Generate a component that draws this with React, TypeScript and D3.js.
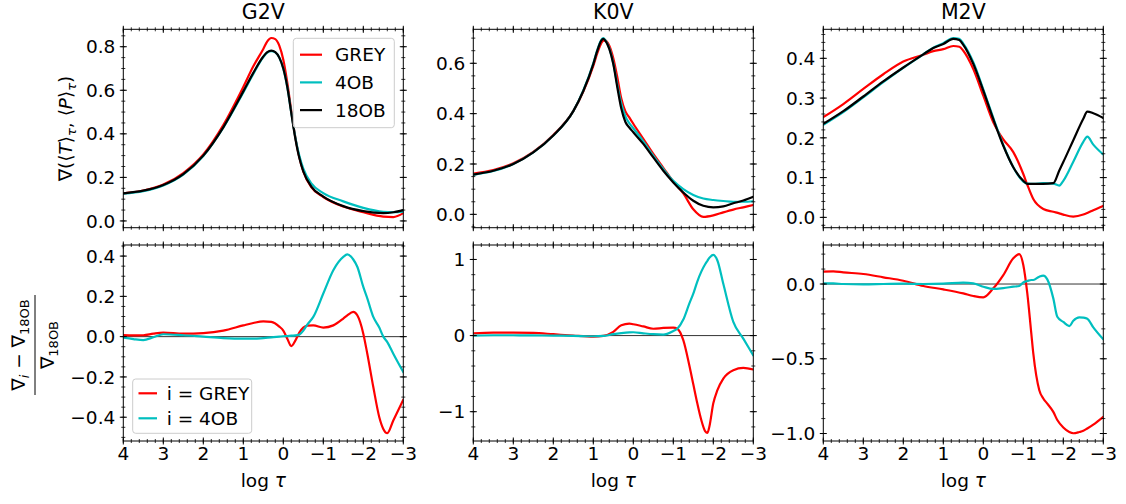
import React from 'react';
import * as d3 from 'd3';

// ---------- categories / ticks ----------
const starTypes = ['G2V', 'K0V', 'M2V'];
const xMajorTicks = [4, 3, 2, 1, 0, -1, -2, -3];
const topLegendLabels = ['GREY', '4OB', '18OB'];
const bottomLegendLabels = ['i = GREY', 'i = 4OB'];

// ---------- G2V gradient ----------
const tauG2VTop = [4, 3.5, 3, 2.5, 2, 1.5, 1, 0.75, 0.5, 0.4, 0.3, 0.2, 0.1, 0, -0.1, -0.2, -0.3, -0.4, -0.5, -0.7, -1, -1.5, -2, -2.5, -2.75, -3];
const g2vTopGrey = [0.127, 0.14, 0.167, 0.22, 0.305, 0.44, 0.615, 0.71, 0.79, 0.825, 0.84, 0.835, 0.805, 0.74, 0.635, 0.505, 0.385, 0.292, 0.228, 0.155, 0.11, 0.066, 0.04, 0.02, 0.018, 0.036];
const g2vTop4OB = [0.125, 0.137, 0.163, 0.213, 0.298, 0.428, 0.59, 0.675, 0.752, 0.773, 0.78, 0.774, 0.75, 0.7, 0.615, 0.497, 0.385, 0.3, 0.24, 0.172, 0.128, 0.09, 0.06, 0.042, 0.04, 0.043];
const g2vTop18OB = [0.127, 0.139, 0.165, 0.215, 0.3, 0.43, 0.595, 0.68, 0.755, 0.775, 0.782, 0.775, 0.75, 0.7, 0.615, 0.495, 0.38, 0.29, 0.228, 0.158, 0.112, 0.068, 0.045, 0.036, 0.04, 0.05];

// ---------- K0V gradient ----------
const tauK0VTop = [4, 3.5, 3, 2.5, 2, 1.5, 1.25, 1, 0.9, 0.8, 0.75, 0.7, 0.6, 0.5, 0.4, 0.3, 0.2, 0.1, 0, -0.25, -0.5, -0.75, -1, -1.25, -1.5, -1.75, -2, -2.25, -2.5, -2.75, -3];
const k0vTopGrey = [0.162, 0.176, 0.203, 0.248, 0.315, 0.41, 0.488, 0.59, 0.64, 0.68, 0.69, 0.69, 0.67, 0.62, 0.545, 0.46, 0.41, 0.385, 0.36, 0.3, 0.24, 0.185, 0.13, 0.083, 0.02, -0.01, -0.004, 0.008, 0.019, 0.028, 0.037];
const k0vTop4OB = [0.157, 0.172, 0.2, 0.246, 0.313, 0.41, 0.492, 0.6, 0.653, 0.693, 0.7, 0.692, 0.66, 0.6, 0.515, 0.44, 0.39, 0.362, 0.342, 0.29, 0.233, 0.18, 0.133, 0.1, 0.077, 0.063, 0.057, 0.053, 0.05, 0.05, 0.052];
const k0vTop18OB = [0.158, 0.173, 0.2, 0.246, 0.313, 0.41, 0.49, 0.597, 0.65, 0.69, 0.697, 0.69, 0.657, 0.597, 0.505, 0.42, 0.368, 0.345, 0.326, 0.28, 0.226, 0.173, 0.127, 0.087, 0.054, 0.034, 0.028, 0.032, 0.044, 0.055, 0.07];

// ---------- M2V gradient ----------
const tauM2VTop = [4, 3.5, 3, 2.5, 2, 1.5, 1.25, 1, 0.75, 0.6, 0.5, 0.25, 0, -0.25, -0.5, -0.75, -1, -1.1, -1.25, -1.5, -1.75, -1.9, -2, -2.25, -2.5, -2.6, -2.75, -3];
const m2vTopGrey = [0.252, 0.285, 0.323, 0.36, 0.392, 0.409, 0.418, 0.423, 0.431, 0.429, 0.419, 0.373, 0.306, 0.239, 0.196, 0.164, 0.109, 0.082, 0.046, 0.021, 0.014, 0.01, 0.007, 0.002, 0.007, 0.011, 0.018, 0.029];
const m2vTop4OB = [0.233, 0.265, 0.302, 0.34, 0.376, 0.41, 0.427, 0.438, 0.451, 0.449, 0.437, 0.39, 0.322, 0.25, 0.182, 0.126, 0.09, 0.085, 0.084, 0.086, 0.085, 0.08, 0.092, 0.14, 0.19, 0.203, 0.183, 0.158];
const m2vTop18OB = [0.235, 0.267, 0.304, 0.342, 0.377, 0.41, 0.426, 0.436, 0.449, 0.446, 0.434, 0.386, 0.319, 0.247, 0.18, 0.126, 0.092, 0.084, 0.084, 0.084, 0.086, 0.118, 0.139, 0.194, 0.248, 0.266, 0.262, 0.25];

// ---------- G2V relative difference ----------
const tauG2VBot = [4, 3.75, 3.5, 3.25, 3, 2.5, 2, 1.5, 1, 0.75, 0.5, 0.3, 0.1, 0, -0.1, -0.2, -0.3, -0.4, -0.5, -0.6, -0.75, -1, -1.25, -1.5, -1.6, -1.75, -1.85, -2, -2.1, -2.25, -2.4, -2.5, -2.6, -2.75, -3];
const g2vBotGrey = [0.008, 0.006, 0.007, 0.015, 0.02, 0.015, 0.018, 0.03, 0.056, 0.068, 0.076, 0.073, 0.05, 0.03, -0.01, -0.047, -0.02, 0.02, 0.045, 0.055, 0.056, 0.045, 0.056, 0.09, 0.106, 0.123, 0.106, 0.015, -0.085, -0.25, -0.4, -0.458, -0.479, -0.416, -0.313];
const g2vBot4OB = [-0.005, -0.012, -0.017, -0.003, 0.012, 0.007, 0, -0.007, -0.01, -0.01, -0.007, -0.004, 0, 0.002, 0.003, 0.005, 0.006, 0.01, 0.03, 0.06, 0.098, 0.214, 0.33, 0.396, 0.408, 0.383, 0.347, 0.247, 0.19, 0.098, 0.045, 0, -0.027, -0.085, -0.176];

// ---------- K0V relative difference ----------
const tauK0VBot = [4, 3.5, 3, 2.5, 2, 1.5, 1, 0.75, 0.5, 0.3, 0.1, 0, -0.25, -0.5, -0.75, -1, -1.1, -1.25, -1.4, -1.5, -1.6, -1.7, -1.8, -1.85, -1.9, -2, -2.1, -2.25, -2.5, -2.75, -3];
const k0vBotGrey = [0.03, 0.04, 0.04, 0.035, 0.018, 0, -0.013, -0.004, 0.048, 0.136, 0.158, 0.149, 0.12, 0.09, 0.1, 0.105, 0.09, -0.06, -0.39, -0.64, -0.89, -1.11, -1.26, -1.28, -1.2, -0.89, -0.72, -0.565, -0.455, -0.425, -0.446];
const k0vBot4OB = [0, 0.004, 0.004, 0.002, 0, -0.004, -0.009, -0.005, 0.018, 0.032, 0.042, 0.044, 0.03, 0.018, 0.013, 0.06, 0.09, 0.21, 0.42, 0.55, 0.71, 0.84, 0.94, 0.98, 1.02, 1.06, 0.99, 0.68, 0.18, -0.04, -0.26];

// ---------- M2V relative difference ----------
const tauM2VBot = [4, 3.75, 3.5, 3, 2.5, 2, 1.5, 1, 0.5, 0.25, 0, -0.25, -0.5, -0.75, -0.9, -1, -1.1, -1.2, -1.25, -1.4, -1.5, -1.6, -1.75, -1.85, -2, -2.15, -2.25, -2.4, -2.5, -2.6, -2.75, -3];
const m2vBotGrey = [0.083, 0.085, 0.078, 0.067, 0.045, 0.022, -0.013, -0.036, -0.063, -0.08, -0.089, -0.029, 0.06, 0.172, 0.2, 0.127, -0.063, -0.33, -0.464, -0.71, -0.766, -0.8, -0.855, -0.91, -0.96, -0.99, -0.998, -0.99, -0.982, -0.966, -0.94, -0.888];
const m2vBot4OB = [0.004, 0.004, 0, -0.002, 0, 0.002, 0, 0.002, 0.009, 0.004, -0.018, -0.033, -0.027, -0.018, -0.013, 0.011, 0.02, 0.027, 0.027, 0.049, 0.056, 0.031, -0.096, -0.219, -0.254, -0.281, -0.246, -0.223, -0.225, -0.232, -0.29, -0.37];

// ---------- colours ----------
const RED = '#ff0000';
const CYAN = '#00bfbf';
const BLACK = '#000000';
const FONT = '"DejaVu Sans", sans-serif';
const FS = 18.5;

const COL_LEFT = [123.3, 473.3, 823.3];
const PW = 280;
const TOP_ROW = [29.3, 227.7];
const BOT_ROW = [245, 441];

type Series = { color: string; tau: number[]; values: number[] };

function minorRange(lo: number, hi: number, step: number) {
  const a = Math.ceil(lo / step - 1e-9);
  const b = Math.floor(hi / step + 1e-9);
  return d3.range(a, b + 1).map((i) => i * step);
}

function Panel(props: {
  left: number; row: number[]; yDomain: [number, number]; yTicks: number[]; yMinor: number;
  yFmt: (v: number) => string; series: Series[]; title?: string; xLabels?: boolean; zero?: boolean; id: string;
}) {
  const { left, row, yDomain, yTicks, yMinor, yFmt, series, title, xLabels, zero, id } = props;
  const x = d3.scaleLinear().domain([4, -3]).range([left, left + PW]);
  const y = d3.scaleLinear().domain(yDomain).range([row[1], row[0]]);
  const line = d3.line<[number, number]>().x((d) => x(d[0])).y((d) => y(d[1])).curve(d3.curveMonotoneX);
  const xMinor = d3.range(0, 36).map((i) => -3 + i * 0.2);
  const yMin = minorRange(yDomain[0], yDomain[1], yMinor);
  const x0 = left, x1 = left + PW, y0 = row[0], y1 = row[1];
  const M = 3.5, m = 2;
  return (
    <g>
      <defs>
        <clipPath id={id}><rect x={x0} y={y0} width={PW} height={y1 - y0} /></clipPath>
      </defs>
      {zero && <line x1={x0} x2={x1} y1={y(0)} y2={y(0)} stroke="#000" strokeWidth={0.8} />}
      <g clipPath={`url(#${id})`}>
        {series.map((s, i) => (
          <path key={i} d={line(s.tau.map((t, j) => [t, s.values[j]] as [number, number])) || ''}
            fill="none" stroke={s.color} strokeWidth={2.2} strokeLinejoin="round" strokeLinecap="round" />
        ))}
      </g>
      <rect x={x0} y={y0} width={PW} height={y1 - y0} fill="none" stroke="#000" strokeWidth={1} />
      {xMinor.map((t, i) => (
        <g key={'xm' + i}>
          <line x1={x(t)} x2={x(t)} y1={y1 - m} y2={y1 + m} stroke="#000" strokeWidth={0.8} />
          <line x1={x(t)} x2={x(t)} y1={y0 - m} y2={y0 + m} stroke="#000" strokeWidth={0.8} />
        </g>
      ))}
      {xMajorTicks.map((t, i) => (
        <g key={'xM' + i}>
          <line x1={x(t)} x2={x(t)} y1={y1 - M} y2={y1 + M} stroke="#000" strokeWidth={1} />
          <line x1={x(t)} x2={x(t)} y1={y0 - M} y2={y0 + M} stroke="#000" strokeWidth={1} />
          {xLabels && (
            <text x={x(t)} y={460} textAnchor="middle" fontSize={FS} fontFamily={FONT}>
              {d3.format('d')(t)}
            </text>
          )}
        </g>
      ))}
      {yMin.map((t, i) => (
        <g key={'ym' + i}>
          <line x1={x0 - m} x2={x0 + m} y1={y(t)} y2={y(t)} stroke="#000" strokeWidth={0.8} />
          <line x1={x1 - m} x2={x1 + m} y1={y(t)} y2={y(t)} stroke="#000" strokeWidth={0.8} />
        </g>
      ))}
      {yTicks.map((t, i) => (
        <g key={'yM' + i}>
          <line x1={x0 - M} x2={x0 + M} y1={y(t)} y2={y(t)} stroke="#000" strokeWidth={1} />
          <line x1={x1 - M} x2={x1 + M} y1={y(t)} y2={y(t)} stroke="#000" strokeWidth={1} />
          <text x={x0 - 8} y={y(t)} dy="0.36em" textAnchor="end" fontSize={FS} fontFamily={FONT}>{yFmt(t)}</text>
        </g>
      ))}
      {title && (
        <text x={(x0 + x1) / 2} y={19} textAnchor="middle" fontSize={20.5} fontFamily={FONT}>{title}</text>
      )}
      {xLabels && (
        <text x={(x0 + x1) / 2} y={487} textAnchor="middle" fontSize={FS} fontFamily={FONT}>
          log <tspan fontStyle="italic">τ</tspan>
        </text>
      )}
    </g>
  );
}

const f1 = d3.format('.1f');
const fd = d3.format('d');

export default function App() {
  const colors = [RED, CYAN, BLACK];
  return (
    <svg width={1126} height={504} style={{ position: 'absolute', left: 0, top: 0, background: '#fff' }}
      fontFamily={FONT}>
      <rect width={1126} height={504} fill="#fff" />
      <Panel id="c0" left={COL_LEFT[0]} row={TOP_ROW} yDomain={[-0.031, 0.88]} yTicks={[0, 0.2, 0.4, 0.6, 0.8]} yMinor={0.05}
        yFmt={f1} title={starTypes[0]}
        series={[{ color: RED, tau: tauG2VTop, values: g2vTopGrey }, { color: CYAN, tau: tauG2VTop, values: g2vTop4OB }, { color: BLACK, tau: tauG2VTop, values: g2vTop18OB }]} />
      <Panel id="c1" left={COL_LEFT[1]} row={TOP_ROW} yDomain={[-0.053, 0.735]} yTicks={[0, 0.2, 0.4, 0.6]} yMinor={0.05}
        yFmt={f1} title={starTypes[1]}
        series={[{ color: RED, tau: tauK0VTop, values: k0vTopGrey }, { color: CYAN, tau: tauK0VTop, values: k0vTop4OB }, { color: BLACK, tau: tauK0VTop, values: k0vTop18OB }]} />
      <Panel id="c2" left={COL_LEFT[2]} row={TOP_ROW} yDomain={[-0.026, 0.473]} yTicks={[0, 0.1, 0.2, 0.3, 0.4]} yMinor={0.02}
        yFmt={f1} title={starTypes[2]}
        series={[{ color: RED, tau: tauM2VTop, values: m2vTopGrey }, { color: CYAN, tau: tauM2VTop, values: m2vTop4OB }, { color: BLACK, tau: tauM2VTop, values: m2vTop18OB }]} />
      <Panel id="c3" left={COL_LEFT[0]} row={BOT_ROW} yDomain={[-0.518, 0.455]} yTicks={[-0.4, -0.2, 0, 0.2, 0.4]} yMinor={0.05}
        yFmt={f1} xLabels zero
        series={[{ color: RED, tau: tauG2VBot, values: g2vBotGrey }, { color: CYAN, tau: tauG2VBot, values: g2vBot4OB }]} />
      <Panel id="c4" left={COL_LEFT[1]} row={BOT_ROW} yDomain={[-1.385, 1.19]} yTicks={[-1, 0, 1]} yMinor={0.2}
        yFmt={fd} xLabels zero
        series={[{ color: RED, tau: tauK0VBot, values: k0vBotGrey }, { color: CYAN, tau: tauK0VBot, values: k0vBot4OB }]} />
      <Panel id="c5" left={COL_LEFT[2]} row={BOT_ROW} yDomain={[-1.05, 0.261]} yTicks={[-1, -0.5, 0]} yMinor={0.1}
        yFmt={f1} xLabels zero
        series={[{ color: RED, tau: tauM2VBot, values: m2vBotGrey }, { color: CYAN, tau: tauM2VBot, values: m2vBot4OB }]} />

      <g>
        <rect x={293.3} y={38.3} width={101} height={89.4} rx={3} fill="#fff" fillOpacity={0.8} stroke="#cccccc" strokeWidth={1} />
        {topLegendLabels.map((lab, i) => {
          const yy = 54.7 + i * 27.7;
          return (
            <g key={lab}>
              <line x1={300} x2={322} y1={yy} y2={yy} stroke={colors[i]} strokeWidth={2.2} />
              <text x={335} y={yy} dy="0.36em" fontSize={FS} fontFamily={FONT}>{lab}</text>
            </g>
          );
        })}
      </g>
      <g>
        <rect x={132.7} y={379} width={119} height={54.3} rx={3} fill="#fff" fillOpacity={0.8} stroke="#cccccc" strokeWidth={1} />
        {bottomLegendLabels.map((lab, i) => {
          const yy = 393.3 + i * 25;
          return (
            <g key={lab}>
              <line x1={138.5} x2={157} y1={yy} y2={yy} stroke={colors[i]} strokeWidth={2.2} />
              <text x={166.7} y={yy} dy="0.36em" fontSize={FS} fontFamily={FONT}>{lab}</text>
            </g>
          );
        })}
      </g>

      <text transform="translate(72,128.5) rotate(-90)" textAnchor="middle" fontSize={FS} fontFamily={FONT}>
        ∇(⟨<tspan fontStyle="italic">T</tspan>⟩<tspan fontSize={13} fontStyle="italic" dy={4}>τ</tspan>
        <tspan dy={-4}>, ⟨</tspan><tspan fontStyle="italic">P</tspan>⟩<tspan fontSize={13} fontStyle="italic" dy={4}>τ</tspan>
        <tspan dy={-4}>)</tspan>
      </text>
      <g transform="translate(35,345) rotate(-90)">
        <text x={0} y={-10} textAnchor="middle" fontSize={FS} fontFamily={FONT}>
          ∇<tspan fontSize={13} fontStyle="italic" dy={4}>i</tspan><tspan dy={-4}> − ∇</tspan>
          <tspan fontSize={13} dy={4}>18OB</tspan>
        </text>
        <line x1={-50} x2={50} y1={0} y2={0} stroke="#000" strokeWidth={1} />
        <text x={0} y={19} textAnchor="middle" fontSize={FS} fontFamily={FONT}>
          ∇<tspan fontSize={13} dy={4}>18OB</tspan>
        </text>
      </g>
    </svg>
  );
}
